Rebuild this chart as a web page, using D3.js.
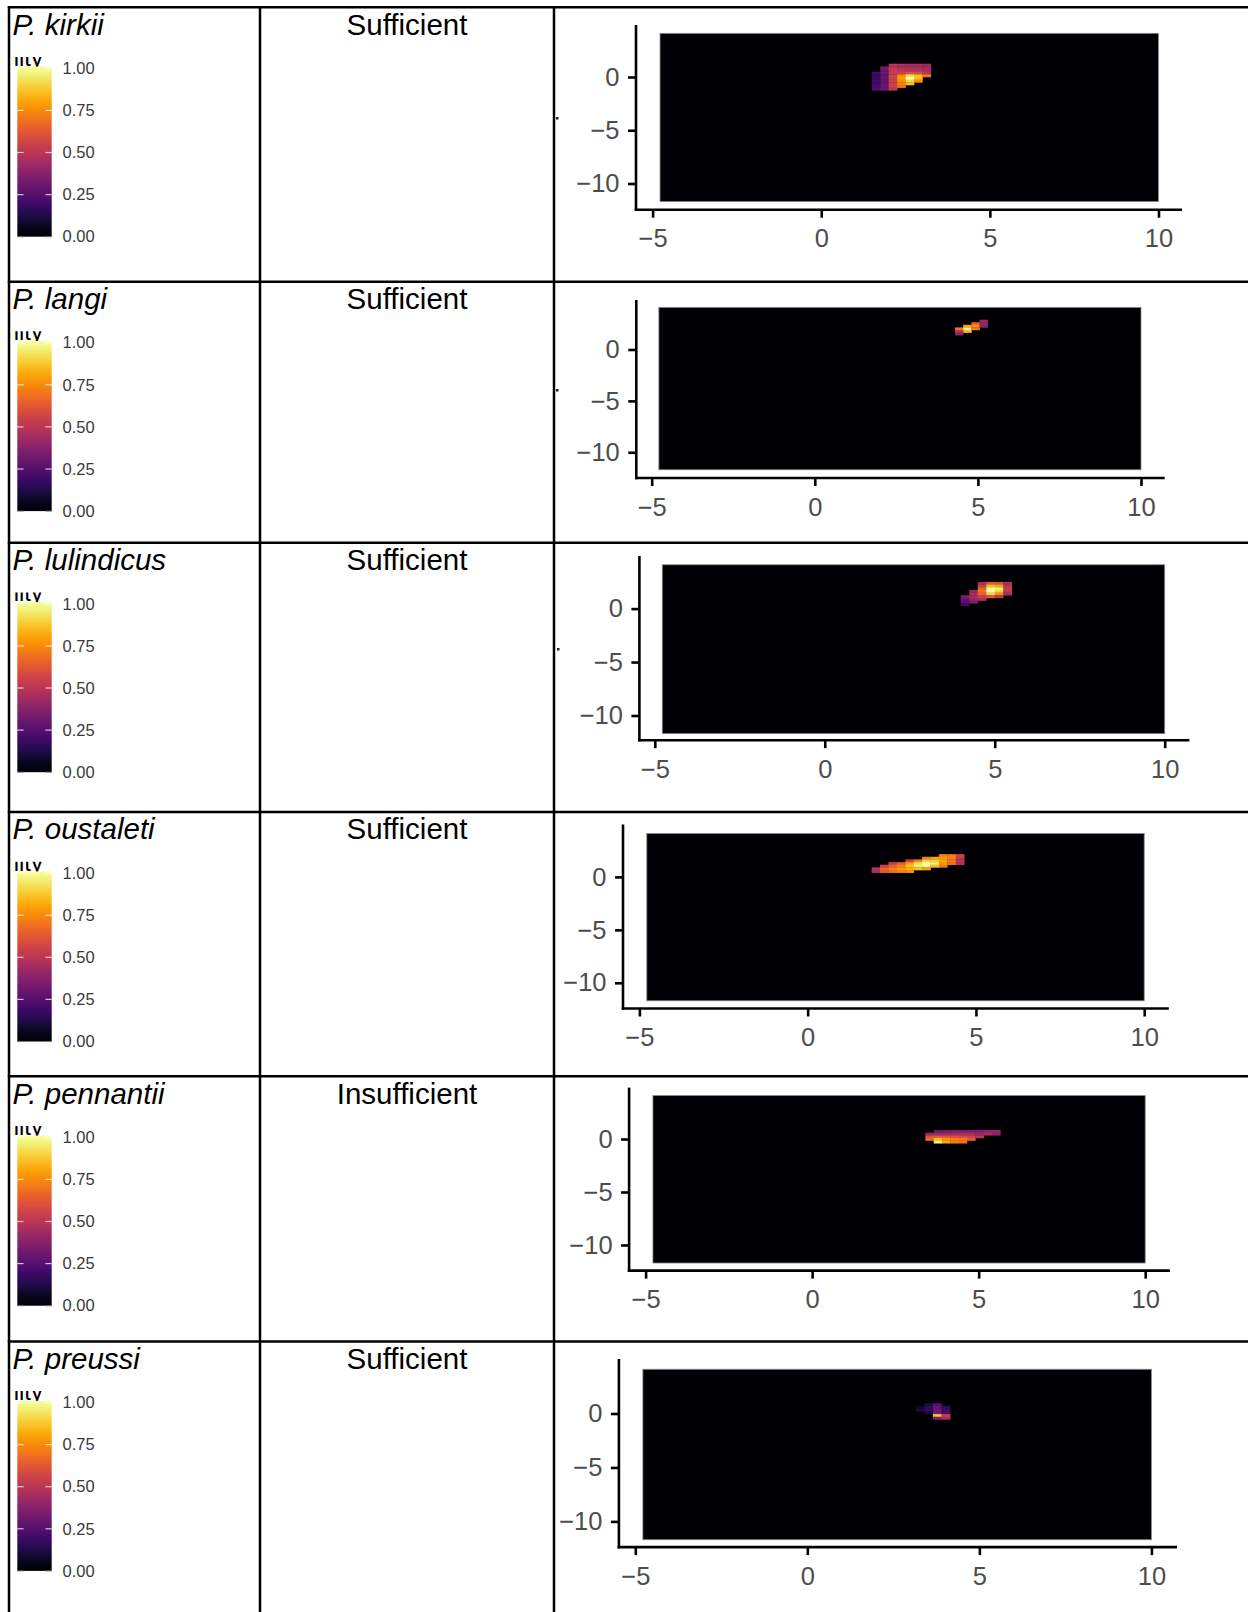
<!DOCTYPE html>
<html>
<head>
<meta charset="utf-8">
<script src="https://cdn.jsdelivr.net/npm/d3@7"></script>
<style>
  body { margin: 0; background: #fff; }
  svg { display: block; }
</style>
</head>
<body>
<svg id="chart" width="1248" height="1612"></svg>
<script>
// ---- data ---------------------------------------------------------------
const species = ["P. kirkii", "P. langi", "P. lulindicus", "P. oustaleti", "P. pennantii", "P. preussi"];
const dataStatus = ["Sufficient", "Sufficient", "Sufficient", "Sufficient", "Insufficient", "Sufficient"];
const legendTicks = [0, 0.25, 0.5, 0.75, 1];
const legendTitle = "lity";   // tail of the colour-bar title, the rest sits outside the cell
const xTicks = [-5, 0, 5, 10];
const yTicks = [-10, -5, 0];
// raster extent (degrees)
const rasterX = [-4.78, 10];
const rasterY = [-11.7, 4.1];
const cellSize = 0.25;
// top-left corner [x, y] of each species' non-zero suitability grid
const gridOrigins = [[1.5, 1.25], [4.3, 2.9], [4.0, 2.5], [1.9, 2.15], [3.4, 0.85], [3.15, 0.95]];
const _ = null;
const kirkiiGrid = [
  [_, _, .50, .47, .45, .45, .42],
  [_, .32, .50, .47, .46, .45, .44],
  [_, .30, .52, .50, .48, .47, .45],
  [.20, .30, .52, .55, .60, .58, .50],
  [.18, .28, .55, .75, .92, .85, .70],
  [.18, .28, .55, .78, 1.0, .85],
  [.20, .28, .55, .75, .90, .75],
  [.20, .30, .55, .72, .85],
  [.22, .30, .55, .68],
  [.25, .30, .50]
];
const langiGrid = [
  [_, _, _, .42],
  [_, _, .65, .40],
  [_, .80, .75, .38],
  [.70, .98, .70],
  [.50, .85],
  [.40]
];
const lulindicusGrid = [
  [_, _, .45, .62, .60, .45],
  [_, _, .55, .85, .80, .50],
  [_, _, .65, .98, .95, .55],
  [_, .42, .70, 1.0, .90, .52],
  [_, .45, .65, .90, .75, .45],
  [.35, .45, .55, .62, .50],
  [.30, .40, .45],
  [.25, .35],
  [.20]
];
const oustaletiGrid = [
  [_, _, _, _, _, _, _, _, .72, .70, .55],
  [_, _, _, _, _, _, .72, .80, .78, .72, .52],
  [_, _, _, _, .55, .72, .90, .88, .80, .70, .50],
  [_, _, .52, .62, .78, .92, 1.0, .95, .78, .68, .48],
  [_, .55, .65, .72, .85, .95, .98, .85, .70],
  [.48, .65, .72, .78, .82, .85, .80],
  [.45, .62, .68, .72, .75]
];
const pennantiiGrid = [
  [_, .30, .32, .35, .35, .35, .35, .40, .40],
  [.40, .42, .42, .45, .45, .45, .42, .45, .38],
  [.60, .62, .62, .60, .58, .55, .50],
  [.65, .85, .75, .72, .70, .62],
  [_, .95, .80, .72, .68]
];
const preussiGrid = [
  [_, .12, .25],
  [.08, .15, .28, .15],
  [.10, .18, .30, .20],
  [_, .10, .32, .22],
  [_, _, .85, .52],
  [_, _, .35, .45]
];
const grids = [kirkiiGrid, langiGrid, lulindicusGrid, oustaletiGrid, pennantiiGrid, preussiGrid];

// ---- layout -------------------------------------------------------------
const W = 1248, H = 1612;
const colX = [9, 260, 554];
const rowTops = [7.3, 281.7, 542.8, 812.1, 1076.3, 1341.5];
// pixel geometry of each map panel
const panels = [
  { ax: 636.0, ay: 209.7, xa: 652.6, xb: 1158.5, y0: 77.0, y10: 183.5, top: 25.0, end: 1182.0 },
  { ax: 636.3, ay: 478.0, xa: 651.7, xb: 1141.0, y0: 349.5, y10: 452.3, top: 300.0, end: 1164.7 },
  { ax: 639.4, ay: 740.2, xa: 654.8, xb: 1164.7, y0: 608.6, y10: 715.5, top: 556.0, end: 1189.4 },
  { ax: 623.0, ay: 1008.5, xa: 639.4, xb: 1144.2, y0: 876.9, y10: 982.8, top: 824.5, end: 1168.8 },
  { ax: 629.1, ay: 1270.6, xa: 645.6, xb: 1145.2, y0: 1139.0, y10: 1245.0, top: 1087.6, end: 1169.9 },
  { ax: 618.9, ay: 1547.1, xa: 635.3, xb: 1151.4, y0: 1413.5, y10: 1521.4, top: 1359.0, end: 1177.0 }
];
const FONT = "'Liberation Sans', Arial, Helvetica, sans-serif";
const color = d3.interpolateInferno;

const svg = d3.select("#chart");
const defs = svg.append("defs");

// colour bar gradient (bottom = 0, top = 1)
const grad = defs.append("linearGradient")
  .attr("id", "cbar").attr("x1", 0).attr("y1", 1).attr("x2", 0).attr("y2", 0);
d3.range(0, 1.0001, 0.05).forEach(t => {
  grad.append("stop").attr("offset", t).attr("stop-color", color(t));
});

species.forEach((name, i) => {
  const T = rowTops[i];
  const g = svg.append("g");

  // species name
  g.append("text")
    .attr("x", 12.5).attr("y", T + 27.2)
    .attr("font-family", FONT).attr("font-size", 29.5).attr("font-style", "italic")
    .attr("fill", "#000").text(name);

  // data status
  g.append("text")
    .attr("x", 407).attr("y", T + 27.2).attr("text-anchor", "middle")
    .attr("font-family", FONT).attr("font-size", 29.5)
    .attr("fill", "#000").text(dataStatus[i]);

  // legend
  const ly = d3.scaleLinear().domain([0, 1]).range([T + 229.4, T + 61]);
  const clipId = "lt" + i;
  defs.append("clipPath").attr("id", clipId)
    .append("rect").attr("x", 12).attr("y", T + 49.6).attr("width", 60).attr("height", 20);
  g.append("text")
    .attr("x", 43).attr("y", T + 58.6).attr("text-anchor", "end")
    .attr("clip-path", `url(#${clipId})`)
    .attr("font-family", FONT).attr("font-size", 24)
    .attr("fill", "#000").text(legendTitle);
  g.append("rect")
    .attr("x", 17.3).attr("y", ly(1.01)).attr("width", 34.4).attr("height", ly(0) - ly(1.01))
    .attr("fill", "url(#cbar)");
  legendTicks.forEach(t => {
    [[17.3, 23.5], [45.5, 51.7]].forEach(([a, b]) => {
      g.append("line")
        .attr("x1", a).attr("x2", b).attr("y1", ly(t)).attr("y2", ly(t))
        .attr("stroke", t === 0 ? "#777" : "#fff").attr("stroke-opacity", 0.75).attr("stroke-width", 1.2);
    });
    g.append("text")
      .attr("x", 62.5).attr("y", ly(t)).attr("dy", "0.35em")
      .attr("font-family", FONT).attr("font-size", 16.5)
      .attr("fill", "#3a3a3a").text(t.toFixed(2));
  });

  // map panel
  const p = panels[i];
  const xs = d3.scaleLinear().domain([-5, 10]).range([p.xa, p.xb]);
  const ys = d3.scaleLinear().domain([0, -10]).range([p.y0, p.y10]);

  g.append("rect")
    .attr("x", xs(rasterX[0])).attr("y", ys(rasterY[1]))
    .attr("width", xs(rasterX[1]) - xs(rasterX[0]))
    .attr("height", ys(rasterY[0]) - ys(rasterY[1]))
    .attr("fill", color(0)).attr("stroke", "#8a8a8a").attr("stroke-width", 0.8);

  const [gx, gy] = gridOrigins[i];
  const cells = [];
  grids[i].forEach((row, r) => row.forEach((v, c) => {
    if (v !== null) cells.push({ x: gx + c * cellSize, y: gy - r * cellSize, v });
  }));
  g.append("g").selectAll("rect").data(cells).join("rect")
    .attr("x", d => xs(d.x))
    .attr("y", d => ys(d.y))
    .attr("width", d => xs(d.x + cellSize) - xs(d.x) + 0.3)
    .attr("height", d => ys(d.y - cellSize) - ys(d.y) + 0.3)
    .attr("fill", d => color(d.v));

  // axis lines
  g.append("line").attr("x1", p.ax).attr("x2", p.ax).attr("y1", p.top).attr("y2", p.ay + 1.3)
    .attr("stroke", "#000").attr("stroke-width", 2.6);
  g.append("line").attr("x1", p.ax - 1.3).attr("x2", p.end).attr("y1", p.ay).attr("y2", p.ay)
    .attr("stroke", "#000").attr("stroke-width", 2.6);

  const xAxis = g.append("g").attr("transform", `translate(0,${p.ay})`)
    .call(d3.axisBottom(xs).tickValues(xTicks).tickSize(8).tickPadding(11.4).tickFormat(d3.format("d")));
  const yAxis = g.append("g").attr("transform", `translate(${p.ax},0)`)
    .call(d3.axisLeft(ys).tickValues(yTicks).tickSize(8).tickPadding(8.5).tickFormat(d3.format("d")));
  [xAxis, yAxis].forEach(a => {
    a.select(".domain").remove();
    a.selectAll(".tick line").attr("stroke", "#000").attr("stroke-width", 2.6);
    a.selectAll(".tick text").attr("font-family", FONT).attr("font-size", 25.5).attr("fill", "#4d4d4d");
  });
});

// small leftover marks at the left edge of the first map panels
[[556, 117], [556, 389], [557, 648]].forEach(([x, y]) => {
  svg.append("rect").attr("x", x).attr("y", y).attr("width", 2.5).attr("height", 2.5).attr("fill", "#222");
});

// table rules
const rules = svg.append("g").attr("stroke", "#000").attr("stroke-width", 2.5);
rowTops.forEach(y => rules.append("line").attr("x1", colX[0] - 1.2).attr("x2", W).attr("y1", y).attr("y2", y));
colX.forEach(x => rules.append("line").attr("x1", x).attr("x2", x).attr("y1", rowTops[0] - 1.2).attr("y2", H));
</script>
</body>
</html>
